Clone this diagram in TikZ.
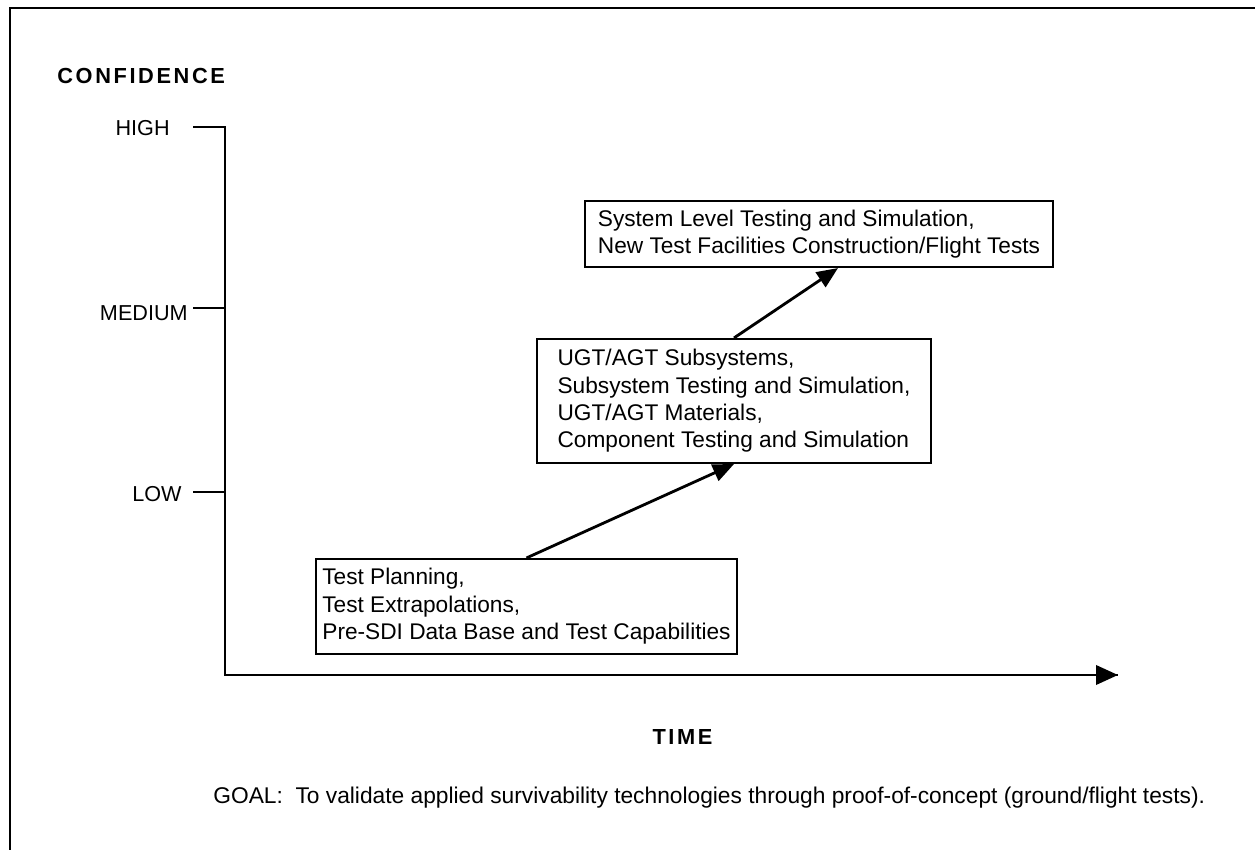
\documentclass[tikz,border=0pt]{standalone}
\usepackage{fontspec}
\setmainfont{Liberation Sans}
\usepackage{tikz}
\usetikzlibrary{arrows.meta, positioning, calc}

\begin{document}
\begin{tikzpicture}[
  font=\fontsize{12.3}{15.6}\selectfont,
  >={Triangle[length=12pt, width=10pt]},
  stage/.style={draw, line width=1.2pt, align=left, inner sep=2pt,
                font=\fontsize{12.9}{15.6}\selectfont},
  arr/.style={->, line width=1.6pt},
  axis/.style={line width=1.5pt},
  lbl/.style={inner sep=0pt},
  head/.style={inner sep=0pt, font=\fontsize{12.4}{14}\selectfont\bfseries\addfontfeature{LetterSpace=12}},
]
\useasboundingbox (0,0) rectangle (25.1,-17);

%% Frame (top and left edges only)
\draw[axis] (0.2,-17) -- (0.2,-0.16) -- (25.1,-0.16);

%% Axes
\coordinate (yhigh)  at (4.5,-2.54);
\coordinate (ymed)   at (4.5,-6.16);
\coordinate (ylow)   at (4.5,-9.84);
\coordinate (origin) at (4.5,-13.5);
\coordinate (xend)   at (22.36,-13.5);
\draw[axis] ([xshift=-0.64cm]yhigh) -- (yhigh) -- (origin) -- (xend);
\draw[axis, -{Triangle[length=12.5pt, width=11pt]}] (origin) -- (xend);
\draw[axis] ([xshift=-0.64cm]ymed) -- (ymed);
\draw[axis] ([xshift=-0.64cm]ylow) -- (ylow);

%% Axis labels
\node[head, anchor=west] (conf) at (1.14,-1.51) {CONFIDENCE};
\node[lbl, anchor=east] (high) at (3.40,-2.56) {HIGH};
\node[lbl, anchor=east] (med)  at (3.76,-6.26) {MEDIUM};
\node[lbl, anchor=east] (low)  at (3.64,-9.88) {LOW};
\node[head] (time) at (13.65,-14.73) {TIME};

%% Stages
\node[stage, minimum width=8.42cm, minimum height=1.9cm] (plan) at (10.53,-12.13)
  {Test Planning,\\Test Extrapolations,\\Pre-SDI Data Base and Test Capabilities};
\node[stage, minimum width=7.88cm, minimum height=2.48cm] (comp) at (14.68,-8.02)
  {UGT/AGT Subsystems,\\Subsystem Testing and Simulation,\\UGT/AGT Materials,\\Component Testing and Simulation};
\node[stage, minimum width=9.36cm, minimum height=1.32cm] (sys) at (16.38,-4.68)
  {System Level Testing and Simulation,\\New Test Facilities Construction/Flight Tests};

%% Arrows between stages
\draw[arr] (plan.north) -- (comp.south);
\draw[arr] (comp.north) -- ([xshift=0.38cm]sys.south);

%% Goal
\node[lbl, anchor=base west, font=\fontsize{12.95}{15.6}\selectfont] (goal) at (4.26,-16.06)
  {GOAL:\ \ To validate applied survivability technologies through proof-of-concept (ground/flight tests).};

\end{tikzpicture}
\end{document}
